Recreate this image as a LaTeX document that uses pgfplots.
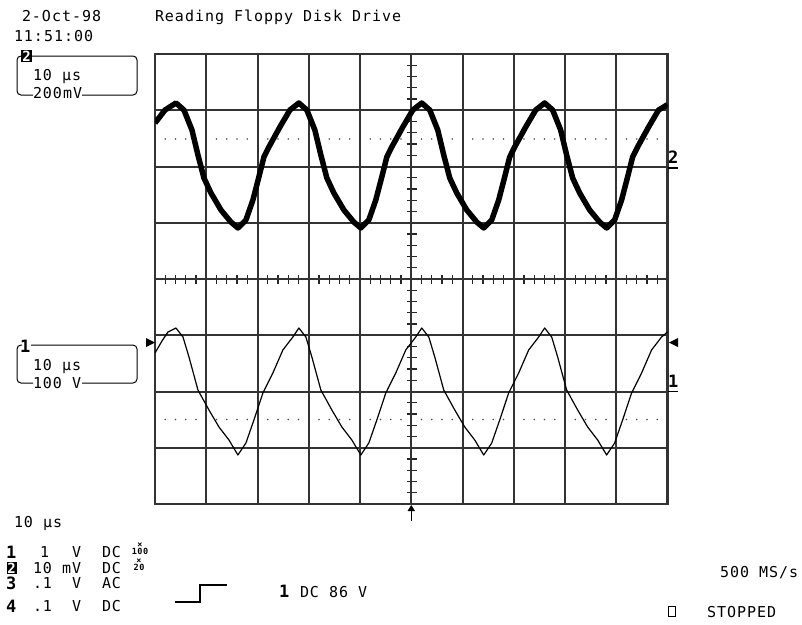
\documentclass[border=0pt]{standalone}
\usepackage{pgfplots}
\pgfplotsset{compat=1.18}
\usepackage{fontspec}
\newfontfamily\oscfont[LetterSpace=6.5]{DejaVu Sans Mono}
\newcommand\osctxt{\fontsize{15}{15}\selectfont\oscfont}
\newcommand\oscchn{\fontsize{17}{17}\selectfont\oscfont\bfseries}

\begin{document}
\begin{tikzpicture}[x=1pt,y=-1pt,every node/.style={inner sep=0pt,outer sep=0pt}]
\useasboundingbox (0,0) rectangle (802,624);

% graticule: centre-line ticks and the dotted reference lines
\begin{scope}[black!85,line width=1.3pt]
  \foreach \i in {1,...,49} \draw ({155+\i*10.25},275) -- ({155+\i*10.25},283.5);
  \foreach \i in {1,...,39} \draw (406.5,{54+\i*11.25}) -- (416.5,{54+\i*11.25});
\end{scope}
\foreach \c in {0,...,9} \foreach \k in {1,...,4} {
  \fill[black!70] ({155+(\c+\k*0.2)*51.25},139) circle (0.8);
  \fill[black!70] ({155+(\c+\k*0.2)*51.25},419.5) circle (0.8);
}

\begin{axis}[
  at={(155pt,-54pt)}, anchor=north west,
  scale only axis, width=512.5pt, height=450pt,
  xmin=0, xmax=10, ymin=-4, ymax=4,
  xtick={0,...,10}, ytick={-4,...,4},
  xticklabels={}, yticklabels={},
  major tick length=0pt,
  grid=major,
  grid style={black!80,line width=2pt},
  axis line style={black!80,line width=2.2pt},
  clip=true
]
% channel 2 (upper, noisy and thick)
\addplot[black,line width=5.5pt,line join=round] coordinates {
(0,2.773) (0.195,3.004)
(0.409,3.129) (0.565,3.004) (0.721,2.649) (0.838,2.204) (0.955,1.796) (1.092,1.529) (1.287,1.227) (1.481,1.013)
(1.618,0.907) (1.774,1.049) (1.910,1.404) (2.027,1.813) (2.125,2.169) (2.222,2.347) (2.437,2.702) (2.632,3.004)
(2.807,3.129) (2.963,3.004) (3.119,2.649) (3.236,2.204) (3.353,1.796) (3.490,1.529) (3.685,1.227) (3.879,1.013)
(4.016,0.907) (4.172,1.049) (4.308,1.404) (4.425,1.813) (4.523,2.169) (4.620,2.347) (4.835,2.702) (5.030,3.004)
(5.205,3.129) (5.361,3.004) (5.517,2.649) (5.634,2.204) (5.751,1.796) (5.888,1.529) (6.083,1.227) (6.277,1.013)
(6.414,0.907) (6.570,1.049) (6.706,1.404) (6.823,1.813) (6.921,2.169) (7.018,2.347) (7.233,2.702) (7.428,3.004)
(7.603,3.129) (7.759,3.004) (7.915,2.649) (8.032,2.204) (8.149,1.796) (8.286,1.529) (8.481,1.227) (8.675,1.013)
(8.812,0.907) (8.968,1.049) (9.104,1.404) (9.221,1.813) (9.319,2.169) (9.416,2.347) (9.631,2.702) (9.826,3.004)
(10,3.10)
};
% channel 1 (lower, thin)
\addplot[black,line width=1.2pt,line join=round] coordinates {
(0,-1.316) (0.136,-1.102) (0.253,-0.942)
(0.409,-0.871) (0.546,-1.031) (0.663,-1.387) (0.838,-1.973) (1.053,-2.329) (1.248,-2.631) (1.443,-2.862)
(1.618,-3.129) (1.774,-2.916) (1.930,-2.507) (2.105,-2.027) (2.300,-1.671) (2.495,-1.262) (2.690,-1.031)
(2.807,-0.871) (2.944,-1.031) (3.061,-1.387) (3.236,-1.973) (3.451,-2.329) (3.646,-2.631) (3.841,-2.862)
(4.016,-3.129) (4.172,-2.916) (4.328,-2.507) (4.503,-2.027) (4.698,-1.671) (4.893,-1.262) (5.088,-1.031)
(5.205,-0.871) (5.342,-1.031) (5.459,-1.387) (5.634,-1.973) (5.849,-2.329) (6.044,-2.631) (6.239,-2.862)
(6.414,-3.129) (6.570,-2.916) (6.726,-2.507) (6.901,-2.027) (7.096,-1.671) (7.291,-1.262) (7.486,-1.031)
(7.603,-0.871) (7.740,-1.031) (7.857,-1.387) (8.032,-1.973) (8.247,-2.329) (8.442,-2.631) (8.637,-2.862)
(8.812,-3.129) (8.968,-2.916) (9.124,-2.507) (9.299,-2.027) (9.494,-1.671) (9.689,-1.262) (9.884,-1.031)
(10,-0.942)
};
\end{axis}

% header
\node[anchor=base west,font=\osctxt] at (22,21) {2-Oct-98};
\node[anchor=base west,font=\osctxt] at (14,41) {11:51:00};
\node[anchor=base west,font=\osctxt] at (155,21) {Reading Floppy Disk Drive};

% channel 2 box
\draw[line width=1pt,rounded corners=4pt] (32,56) -- (137,56) -- (137,95) -- (82,95);
\draw[line width=1pt,rounded corners=4pt] (33,95) -- (17,95) -- (17,56) -- (21,56);
\node[fill=black,text=white,inner sep=1pt,font=\fontsize{14}{14}\selectfont\oscfont\bfseries] at (26.5,56) {2};
\node[anchor=base west,font=\osctxt] at (33,80) {10 μs};
\node[anchor=base west,font=\osctxt] at (33,98) {200mV};

% channel 1 box
\draw[line width=1pt,rounded corners=4pt] (31,345) -- (137,345) -- (137,383) -- (82,383);
\draw[line width=1pt,rounded corners=4pt] (33,383) -- (17,383) -- (17,345) -- (22,345);
\node[anchor=base west,font=\oscchn] at (20,352) {1};
\node[anchor=base west,font=\osctxt] at (33,370) {10 μs};
\node[anchor=base west,font=\osctxt] at (33,388) {100 V};

% markers round the screen
\fill (146,338) -- (155,342.5) -- (146,347) -- cycle;
\fill (678,338) -- (669,342.5) -- (678,347) -- cycle;
\node[anchor=base west,font=\oscchn] at (668,163) {2};
\draw[line width=1.2pt] (668,168) -- (678,168);
\node[anchor=base west,font=\oscchn] at (668,387) {1};
\draw[line width=1.2pt] (668,391.5) -- (678,391.5);
\draw[line width=1pt] (411.25,521) -- (411.25,508);
\fill (407.5,511) -- (411.25,505) -- (415,511) -- cycle;

% bottom status block
\node[anchor=base west,font=\osctxt] at (14,527) {10 μs};
\node[anchor=base west,font=\oscchn] at (6,558) {1};
\node[anchor=base west,font=\osctxt] at (40,557) {1};
\node[anchor=base west,font=\osctxt] at (72,557) {V};
\node[anchor=base west,font=\osctxt] at (102,557) {DC};
\node[align=center,font=\fontsize{8.5}{7}\selectfont\oscfont\bfseries] at (140,549) {×\\100};
\node[fill=black,text=white,inner sep=0.8pt,anchor=base west,font=\fontsize{14}{14}\selectfont\oscfont\bfseries] at (6.5,573) {2};
\node[anchor=base west,font=\osctxt] at (33,573) {10 mV};
\node[anchor=base west,font=\osctxt] at (102,573) {DC};
\node[align=center,font=\fontsize{8.5}{7}\selectfont\oscfont\bfseries] at (139,565) {×\\20};
\node[anchor=base west,font=\oscchn] at (6,589) {3};
\node[anchor=base west,font=\osctxt] at (33,588) {.1};
\node[anchor=base west,font=\osctxt] at (72,588) {V};
\node[anchor=base west,font=\osctxt] at (102,588) {AC};
\node[anchor=base west,font=\oscchn] at (6,612) {4};
\node[anchor=base west,font=\osctxt] at (33,611) {.1};
\node[anchor=base west,font=\osctxt] at (72,611) {V};
\node[anchor=base west,font=\osctxt] at (102,611) {DC};

% trigger
\draw[line width=1.2pt] (175,602) -- (200,602) -- (200,585) -- (227,585);
\node[anchor=base west,font=\oscchn] at (279,597) {1};
\node[anchor=base west,font=\osctxt] at (300,597) {DC 86 V};

\node[anchor=base west,font=\osctxt] at (720,577) {500 MS/s};
\draw[line width=1pt] (668.5,606.5) rectangle (675.5,616.5);
\node[anchor=base west,font=\osctxt] at (707,617) {STOPPED};
\end{tikzpicture}
\end{document}
